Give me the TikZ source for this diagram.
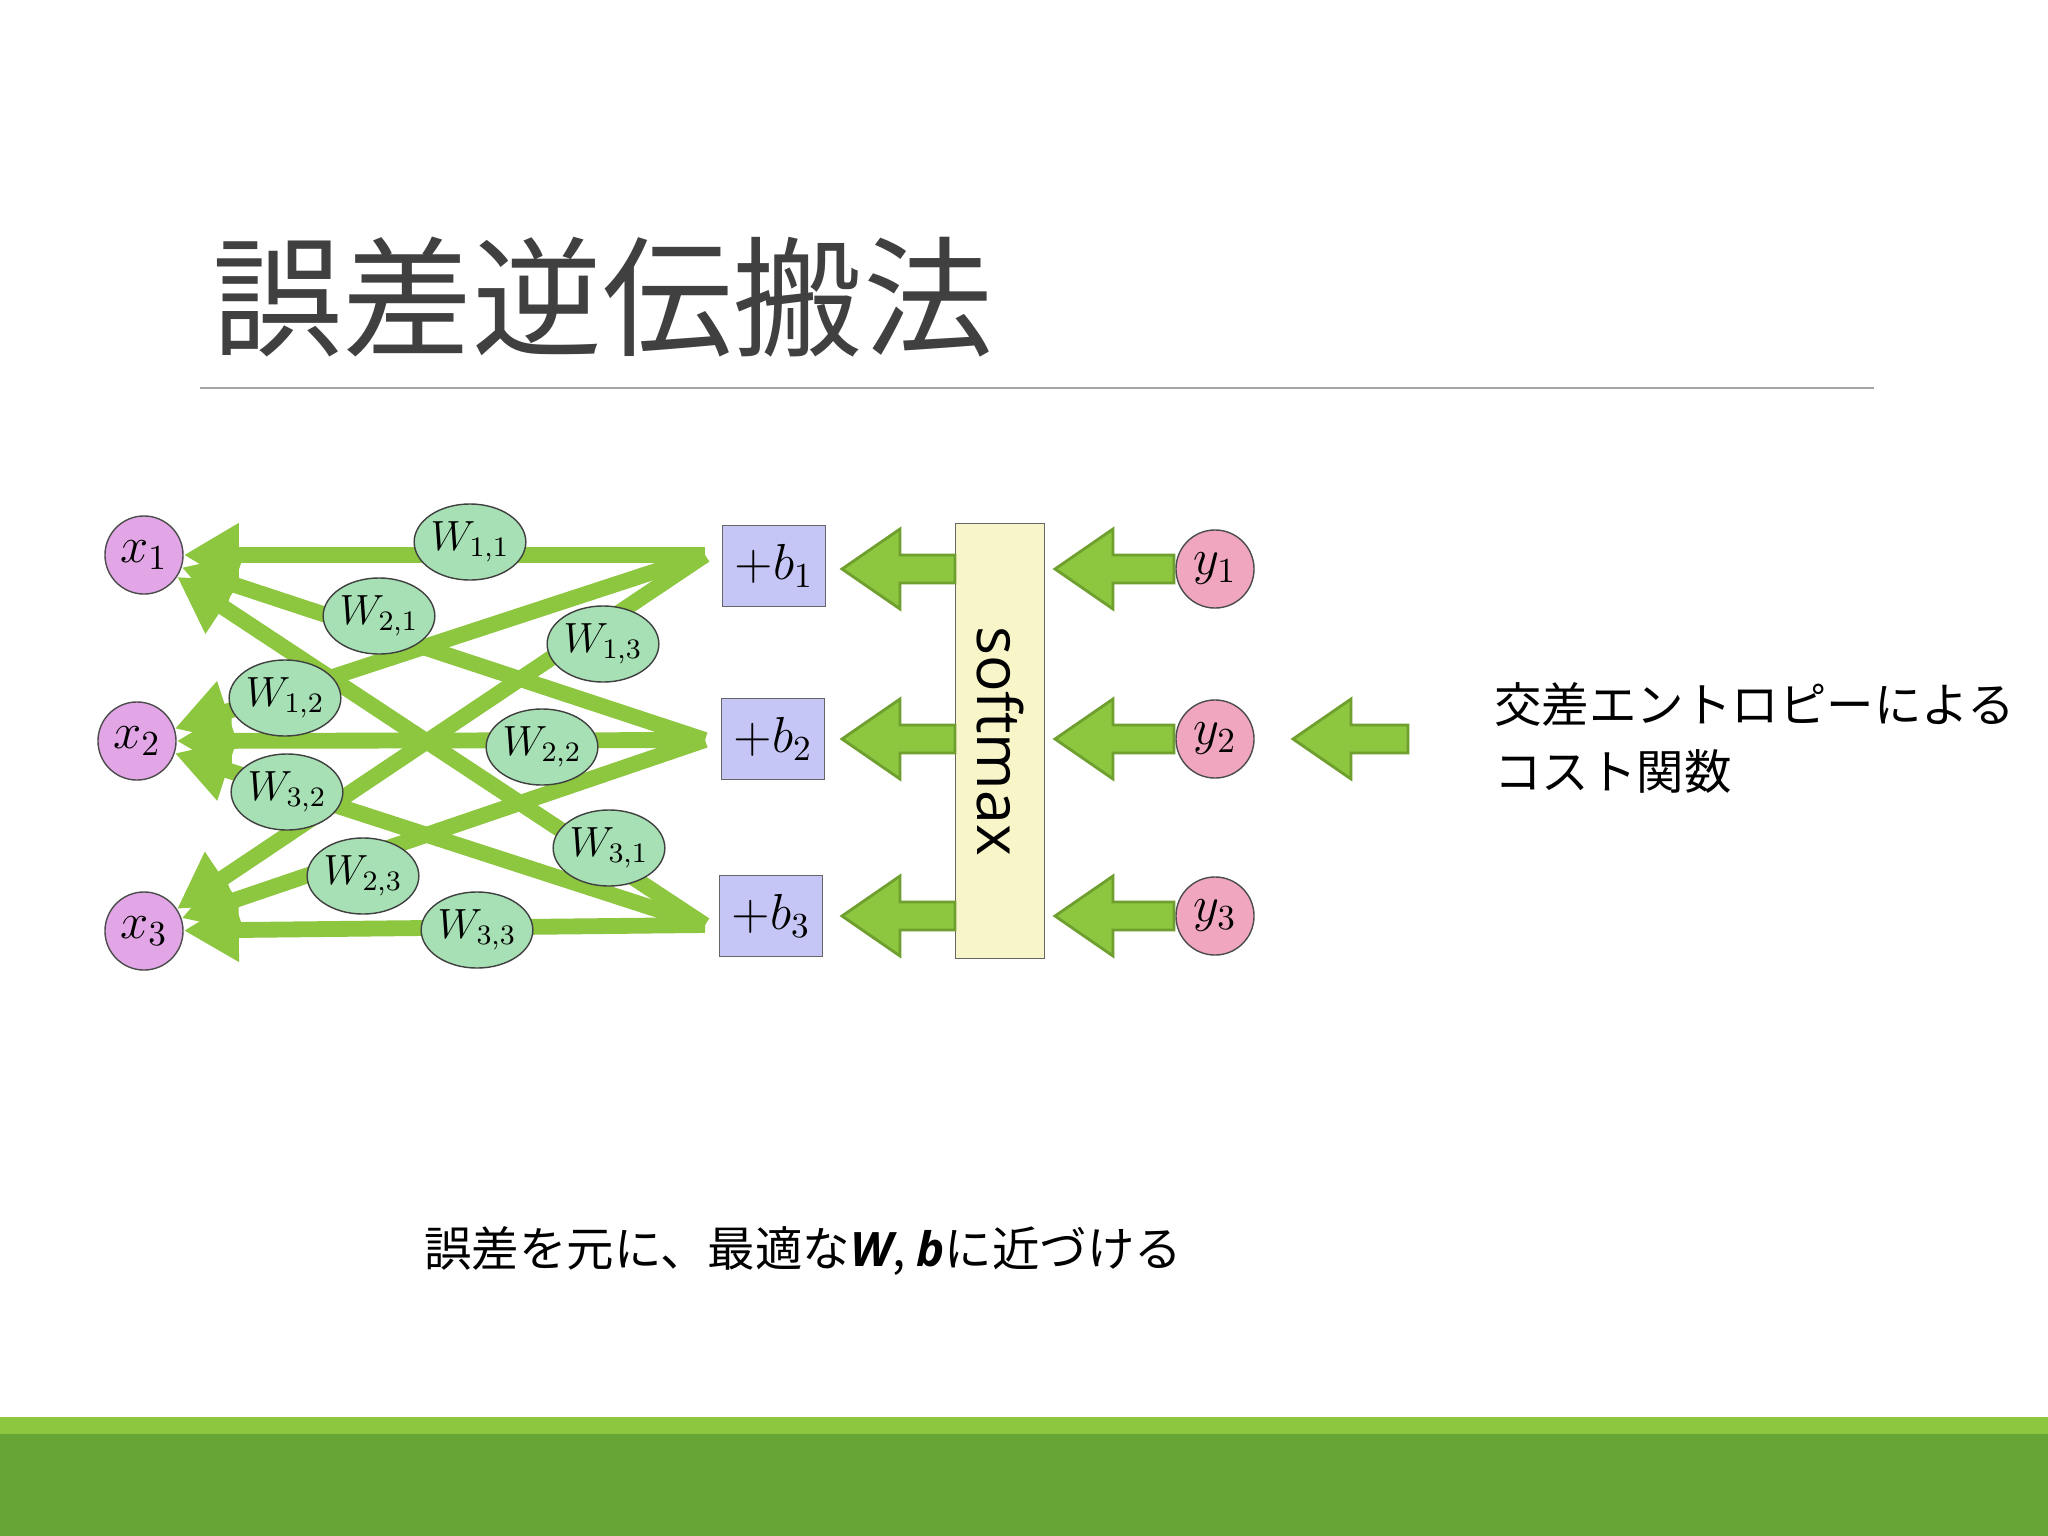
\documentclass[tikz,border=0pt]{standalone}
\usepackage{fontspec}
\setmainfont{Noto Sans}
\setsansfont{Open Sans}
\newfontfamily\jp{Noto Sans CJK JP}
\usetikzlibrary{arrows.meta,positioning,calc,shapes.geometric}
\definecolor{lgreen}{HTML}{8DC63F}
\definecolor{dgreen}{HTML}{66A536}
\definecolor{agreen}{HTML}{6E9F2F}
\definecolor{xcol}{HTML}{E2A6E6}
\definecolor{wcol}{HTML}{A6E0B4}
\definecolor{bcol}{HTML}{C6C6F6}
\definecolor{ycol}{HTML}{F0A6BE}
\definecolor{scol}{HTML}{F8F5C8}
\newcommand\blkarrow[3]
{
\draw[fill=lgreen,draw=agreen,line width=0.8pt] (#1,#3-14) -- (#2+58,#3-14) -- (#2+58,#3-40) -- (#2,#3) -- (#2+58,#3+40) -- (#2+58,#3+14) -- (#1,#3+14) -- cycle;
}
\tikzset{
  xnode/.style={circle,draw=black!70,fill=xcol,minimum size=0.78cm,inner sep=0pt,font=\Large},
  ynode/.style={circle,draw=black!70,fill=ycol,minimum size=0.78cm,inner sep=0pt,font=\Large},
  wnode/.style={ellipse,draw=black!75,fill=wcol,minimum width=1.1cm,minimum height=0.76cm,inner sep=0pt,font=\large},
  bnode/.style={rectangle,draw=black!60,fill=bcol,minimum width=1.02cm,minimum height=0.81cm,font=\Large},
  back/.style={lgreen,line width=4.5pt,-{Triangle[length=0.55cm,width=0.6cm]}},
}
\begin{document}
\begin{tikzpicture}[x=0.01cm,y=-0.01cm]
\useasboundingbox (0,0) rectangle (2048,1536);
\fill[white] (0,0) rectangle (2048,1536);
% title
\node[anchor=west,font=\jp\fontsize{37}{37}\selectfont,text=black!75] (title) at (200,297) {誤差逆伝搬法};
\draw[black!35,line width=0.8pt] (200,388) -- (1874,388);
% inputs
\node[xnode] (x1) at (144,555) {$x_1$};
\node[xnode] (x2) at (137,741) {$x_2$};
\node[xnode] (x3) at (144,931) {$x_3$};
% bias
\node[bnode] (b1) at (774,566) {$+b_1$};
\node[bnode] (b2) at (773,739) {$+b_2$};
\node[bnode] (b3) at (771,916) {$+b_3$};
\coordinate (e1) at (705,555);
\coordinate (e2) at (705,740);
\coordinate (e3) at (705,925);
% back lines
\foreach \j in {1,2,3}
  \foreach \i in {1,2,3}
    \draw[back] (e\j) -- (x\i);
% weights
\node[wnode] (w11) at (470,542) {$W_{1,1}$};
\node[wnode] (w21) at (379,616) {$W_{2,1}$};
\node[wnode] (w13) at (603,644) {$W_{1,3}$};
\node[wnode] (w12) at (285,698) {$W_{1,2}$};
\node[wnode] (w22) at (542,747) {$W_{2,2}$};
\node[wnode] (w32) at (287,792) {$W_{3,2}$};
\node[wnode] (w31) at (609,848) {$W_{3,1}$};
\node[wnode] (w23) at (363,876) {$W_{2,3}$};
\node[wnode] (w33) at (477,930) {$W_{3,3}$};
% softmax
\node[draw=black!60,fill=scol,minimum width=4.35cm,minimum height=0.89cm,rotate=-90,font=\sffamily\LARGE] (sm) at (1000,741) {softmax};
% outputs
\node[ynode] (y1) at (1215,569) {$y_1$};
\node[ynode] (y2) at (1215,739) {$y_2$};
\node[ynode] (y3) at (1215,916) {$y_3$};
\blkarrow{955}{842}{569}
\blkarrow{955}{842}{739}
\blkarrow{955}{842}{916}
\blkarrow{1174}{1055}{569}
\blkarrow{1174}{1055}{739}
\blkarrow{1174}{1055}{916}
\blkarrow{1408}{1293}{739}
\node[anchor=west,font=\jp\fontsize{13.5}{19}\selectfont,align=left] (cost) at (1482,738) {交差エントロピーによる\\コスト関数};
\node[anchor=west,font=\jp\fontsize{13.5}{18}\selectfont] (goal) at (412,1251) {誤差を元に、最適な{\sffamily\bfseries\itshape W}, {\sffamily\bfseries\itshape b}に近づける};
% footer
\fill[lgreen] (0,1417) rectangle (2048,1434);
\fill[dgreen] (0,1434) rectangle (2048,1536);
\end{tikzpicture}
\end{document}
